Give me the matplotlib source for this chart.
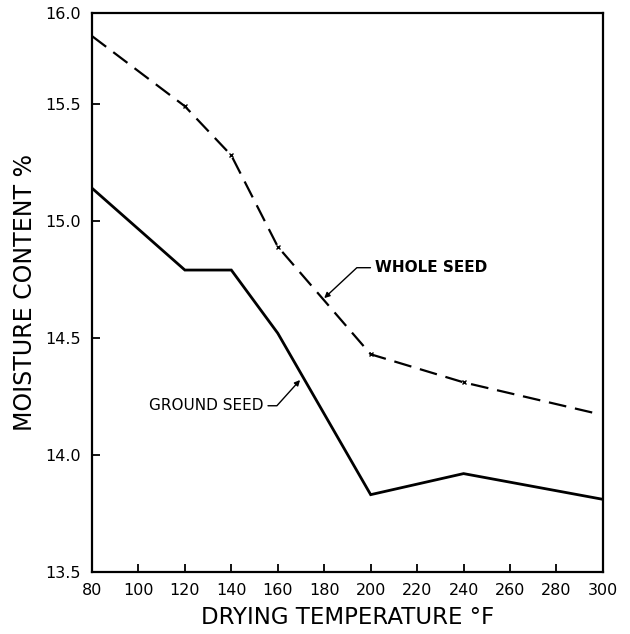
import matplotlib
matplotlib.use('Agg')
import matplotlib.pyplot as plt

# data
temps_whole = [80, 120, 140, 160, 200, 240, 298]
whole_seed = [15.79, 15.49, 15.28, 14.89, 14.43, 14.31, 14.175]
temps_ground = [80, 120, 140, 160, 200, 240, 300]
ground_seed = [15.14, 14.79, 14.79, 14.52, 13.83, 13.92, 13.81]

x_ticks = [80, 100, 120, 140, 160, 180, 200, 220, 240, 260, 280, 300]
y_ticks = [13.5, 14.0, 14.5, 15.0, 15.5, 15.89]
y_tick_labels = ['13.5', '14.0', '14.5', '15.0', '15.5', '16.0']

fig = plt.figure(figsize=(6.3, 6.34), dpi=100)
ax = fig.add_axes([0.146, 0.098, 0.811, 0.882])

ax.plot(temps_ground, ground_seed, color='black', linewidth=2.0, solid_joinstyle='miter')
ax.plot(temps_whole, whole_seed, color='black', linewidth=1.6, dashes=(8, 4),
        marker='x', markersize=3.5, markeredgewidth=1.0, markevery=[1, 2, 3, 4, 5])

ax.set_xlim(80, 300)
ax.set_ylim(13.5, 15.89)
ax.set_xticks(x_ticks)
ax.set_xticklabels([str(t) for t in x_ticks], fontsize=11.5)
ax.set_yticks(y_ticks)
ax.set_yticklabels(y_tick_labels, fontsize=11.5)
ax.tick_params(direction='in', length=6, width=1.3, pad=8)
ax.yaxis.get_major_ticks()[-1].tick1line.set_visible(False)
for s in ax.spines.values():
    s.set_linewidth(1.6)

ax.set_xlabel('DRYING TEMPERATURE °F', fontsize=16.5, labelpad=6)
ax.set_ylabel('MOISTURE CONTENT %', fontsize=17, labelpad=6)

# callout labels
ax.annotate('WHOLE SEED', xy=(180, 14.67), xytext=(201.7, 14.80),
            fontsize=11, fontweight='bold', va='center', ha='left',
            arrowprops=dict(arrowstyle='-|>', color='black', lw=1.0,
                            connectionstyle='angle,angleA=0,angleB=43,rad=0',
                            relpos=(0, 0.5), shrinkA=1, shrinkB=0,
                            mutation_scale=8))
ax.annotate('GROUND SEED', xy=(169.6, 14.32), xytext=(154, 14.21),
            fontsize=11, va='center', ha='right',
            arrowprops=dict(arrowstyle='-|>', color='black', lw=1.0,
                            connectionstyle='angle,angleA=0,angleB=48,rad=0',
                            relpos=(1, 0.5), shrinkA=1, shrinkB=0,
                            mutation_scale=8))

fig.savefig('out.png', dpi=100)
